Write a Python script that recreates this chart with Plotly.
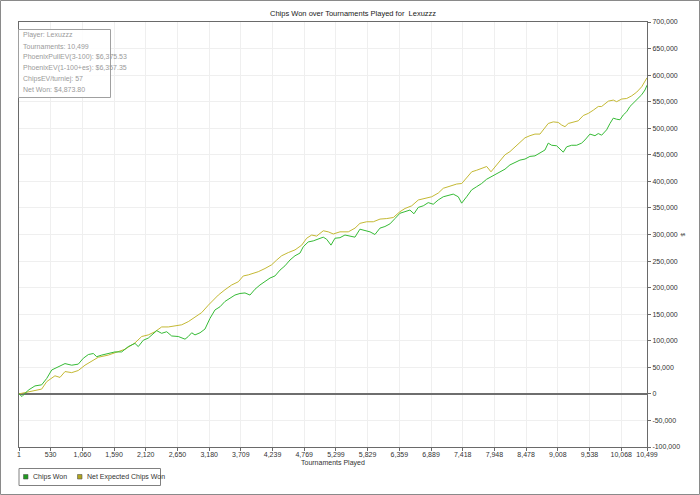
import plotly.graph_objects as go

# ---------------- data ----------------
CHIPS_T = [1, 51, 156, 268, 380, 464, 548, 658, 770, 882, 992, 1076, 1160, 1243, 1300, 1383,
           1494, 1606, 1718, 1828, 1940, 1995, 2079, 2162, 2303, 2386, 2470, 2553, 2664, 2776,
           2831, 2888, 2943, 3027, 3110, 3193, 3277, 3361, 3444, 3528, 3611, 3695, 3779, 3862,
           3946, 4029, 4113, 4197, 4280, 4364, 4447, 4531, 4615, 4698, 4753, 4836, 4920, 5003,
           5087, 5144, 5216, 5283, 5366, 5450, 5533, 5617, 5700, 5784, 5868, 5951, 6035, 6118,
           6202, 6286, 6369, 6453, 6536, 6603, 6675, 6759, 6842, 6926, 7009, 7093, 7177, 7260,
           7344, 7401, 7484, 7568, 7651, 7735, 7818, 7902, 7986, 8041, 8125, 8208, 8292, 8375,
           8459, 8542, 8626, 8710, 8793, 8848, 8905, 8988, 9044, 9099, 9156, 9239, 9323, 9406,
           9462, 9545, 9629, 9684, 9741, 9824, 9880, 9935, 9992, 10047, 10102, 10159, 10214,
           10297, 10353, 10410, 10465, 10499]
CHIPS_WON = [0, -5000, 7000, 15000, 17000, 29000, 45000, 51000, 57000, 54000, 56000, 67000,
             74000, 76000, 70000, 73000, 76000, 79000, 79000, 89000, 95000, 89000, 101000,
             105000, 119000, 114000, 117000, 109000, 108000, 103000, 108000, 115000, 111000,
             115000, 122000, 142000, 158000, 164000, 174000, 180000, 186000, 189000, 190000,
             186000, 197000, 205000, 211000, 218000, 222000, 233000, 241000, 252000, 260000,
             265000, 277000, 286000, 288000, 291000, 295000, 291000, 280000, 293000, 294000,
             299000, 297000, 295000, 310000, 308000, 305000, 300000, 312000, 315000, 320000,
             330000, 340000, 343000, 346000, 339000, 351000, 354000, 360000, 357000, 365000,
             371000, 374000, 376000, 371000, 359000, 371000, 384000, 390000, 396000, 404000,
             409000, 415000, 418000, 423000, 431000, 436000, 440000, 442000, 447000, 448000,
             453000, 459000, 472000, 468000, 467000, 461000, 455000, 465000, 468000, 468000,
             472000, 478000, 489000, 486000, 490000, 487000, 497000, 509000, 519000, 517000,
             516000, 525000, 531000, 541000, 551000, 556000, 563000, 572000, 581000]

EXP_T = [1, 156, 380, 464, 548, 602, 686, 770, 882, 992, 1104, 1216, 1327, 1494, 1606, 1773,
         1940, 2052, 2162, 2274, 2386, 2497, 2609, 2721, 2831, 2943, 3055, 3166, 3249, 3333,
         3444, 3556, 3667, 3750, 3834, 3917, 4001, 4113, 4225, 4309, 4392, 4503, 4615, 4727,
         4810, 4894, 4977, 5088, 5171, 5255, 5367, 5506, 5618, 5701, 5813, 5924, 6036, 6148,
         6258, 6370, 6454, 6566, 6676, 6788, 6900, 7010, 7094, 7206, 7318, 7402, 7485, 7569,
         7652, 7736, 7819, 7891, 7958, 8041, 8125, 8208, 8292, 8375, 8459, 8542, 8626, 8710,
         8793, 8848, 8932, 9015, 9073, 9128, 9183, 9267, 9350, 9434, 9518, 9601, 9685, 9741,
         9797, 9852, 9936, 9992, 10076, 10159, 10243, 10327, 10410, 10465, 10499]
EXP_WON = [0, 4000, 9000, 23000, 29000, 34000, 31000, 42000, 40000, 44000, 54000, 62000,
           69000, 73000, 78000, 84000, 96000, 108000, 111000, 117000, 126000, 126000, 128000,
           130000, 136000, 144000, 153000, 167000, 177000, 186000, 196000, 205000, 211000,
           222000, 224000, 227000, 230000, 236000, 243000, 252000, 260000, 266000, 271000,
           280000, 293000, 299000, 297000, 307000, 305000, 301000, 305000, 305000, 312000,
           321000, 324000, 324000, 329000, 330000, 332000, 343000, 349000, 354000, 365000,
           368000, 371000, 378000, 387000, 391000, 395000, 396000, 406000, 418000, 421000,
           425000, 428000, 418000, 427000, 439000, 450000, 456000, 465000, 472000, 482000,
           486000, 489000, 489000, 500000, 509000, 512000, 511000, 506000, 503000, 509000,
           512000, 514000, 524000, 528000, 534000, 541000, 541000, 547000, 551000, 553000,
           550000, 555000, 556000, 561000, 568000, 578000, 588000, 595000]

X_TICK_VALS = [1, 530, 1060, 1590, 2120, 2650, 3180, 3709, 4239, 4769, 5299, 5829, 6359,
               6889, 7418, 7948, 8478, 9008, 9538, 10068, 10499]
X_TICK_TEXT = ["1", "530", "1,060", "1,590", "2,120", "2,650", "3,180", "3,709", "4,239",
               "4,769", "5,299", "5,829", "6,359", "6,889", "7,418", "7,948", "8,478",
               "9,008", "9,538", "10,068", "10,499"]
Y_TICK_VALS = [-100000, -50000, 0, 50000, 100000, 150000, 200000, 250000, 300000, 350000,
               400000, 450000, 500000, 550000, 600000, 650000, 700000]
Y_TICK_TEXT = ["-100,000", "-50,000", "0", "50,000", "100,000", "150,000", "200,000",
               "250,000", "300,000", "350,000", "400,000", "450,000", "500,000", "550,000",
               "600,000", "650,000", "700,000"]

INFO_LINES = ["Player: Lexuzzz", "Tournaments: 10,499", "PhoenixPullEV(3-100): $6,375.53",
              "PhoenixEV(1-100+es): $6,357.35", "ChipsEV/turniej: 57", "Net Won: $4,873.80"]
TITLE = "Chips Won over Tournaments Played for  Lexuzzz"
SERIES_NAMES = ["Chips Won", "Net Expected Chips Won"]

# ---------------- layout geometry ----------------
FONT = "Liberation Sans"
L, T, W, H = 19, 22, 628, 425
PAGE_W, PAGE_H = 700, 495


def px(x):
    return (x - L) / W


def py(y):
    return (T + H - y) / H


GREEN = "#36bb36"
YELLOW = "#c4b934"

fig = go.Figure()
fig.add_trace(go.Scatter(x=EXP_T, y=EXP_WON, mode="lines", name=SERIES_NAMES[1],
                         line=dict(color=YELLOW, width=1), showlegend=False))
fig.add_trace(go.Scatter(x=CHIPS_T, y=CHIPS_WON, mode="lines", name=SERIES_NAMES[0],
                         line=dict(color=GREEN, width=1), showlegend=False))

shapes = []
annotations = []

# outer border
shapes.append(dict(type="rect", xref="paper", yref="paper", x0=px(0.5), x1=px(699.5),
                   y0=py(0.5), y1=py(494.5), line=dict(color="#8a8a8a", width=1)))
# info box
shapes.append(dict(type="rect", xref="paper", yref="paper", x0=px(18.5), x1=px(110.5),
                   y0=py(29.5), y1=py(97.5), line=dict(color="#a0a0a0", width=1),
                   fillcolor="rgba(255,255,255,0.85)"))
for i, line in enumerate(INFO_LINES):
    annotations.append(dict(text=line, xref="paper", yref="paper", x=px(20.5),
                            y=py(35.5 + i * 10.8), xanchor="left", yanchor="middle",
                            showarrow=False, font=dict(family=FONT, size=7, color="#9a9a9a")))

# legend box
shapes.append(dict(type="rect", xref="paper", yref="paper", x0=px(19), x1=px(160.5),
                   y0=py(468.5), y1=py(485.5), line=dict(color="#808080", width=1)))
legend_items = [(23.5, 31, "#1f9a1f", SERIES_NAMES[0]), (77.5, 84.5, "#b0a51e", SERIES_NAMES[1])]
for sx, tx, col, name in legend_items:
    shapes.append(dict(type="rect", xref="paper", yref="paper", x0=px(sx), x1=px(sx + 4.5),
                       y0=py(474.5), y1=py(479), line=dict(color="#555", width=0.6),
                       fillcolor=col))
    annotations.append(dict(text=name, xref="paper", yref="paper", x=px(tx), y=py(477),
                            xanchor="left", yanchor="middle", showarrow=False,
                            font=dict(family=FONT, size=7, color="#333")))

# title
annotations.append(dict(text=TITLE, xref="paper", yref="paper", x=px(353), y=py(13.5),
                        xanchor="center", yanchor="middle", showarrow=False,
                        font=dict(family=FONT, size=7.5, color="#222")))
# x axis title
annotations.append(dict(text="Tournaments Played", xref="paper", yref="paper", x=px(333),
                        y=py(463), xanchor="center", yanchor="middle", showarrow=False,
                        font=dict(family=FONT, size=7, color="#333")))
# tiny right axis glyph
annotations.append(dict(text="$", xref="paper", yref="paper", x=px(683), y=py(235),
                        xanchor="center", yanchor="middle", showarrow=False, textangle=90,
                        font=dict(family=FONT, size=6, color="#444")))

fig.update_layout(
    width=PAGE_W, height=PAGE_H,
    margin=dict(l=L, r=PAGE_W - L - W, t=T, b=PAGE_H - T - H, pad=0),
    paper_bgcolor="white", plot_bgcolor="white",
    font=dict(family=FONT, size=7, color="#333"),
    showlegend=False,
    shapes=shapes, annotations=annotations,
    xaxis=dict(range=[1, 10499], tickvals=X_TICK_VALS, ticktext=X_TICK_TEXT,
               showgrid=True, gridcolor="#efefef", gridwidth=1,
               showline=True, linecolor="#6a6a6a", linewidth=1, mirror=True,
               ticks="outside", ticklen=3, tickcolor="#6a6a6a", zeroline=False,
               ticklabelstandoff=-2,
               tickfont=dict(family=FONT, size=7, color="#333")),
    yaxis=dict(range=[-100000, 700000], tickvals=Y_TICK_VALS, ticktext=Y_TICK_TEXT,
               side="right", showgrid=True, gridcolor="#efefef", gridwidth=1,
               showline=True, linecolor="#6a6a6a", linewidth=1, mirror=True,
               ticks="outside", ticklen=3, tickcolor="#6a6a6a",
               zeroline=True, zerolinecolor="#6e6e6e", zerolinewidth=1.5,
               tickfont=dict(family=FONT, size=7, color="#333")),
)

fig.write_html("out.html", config={"displayModeBar": False},
               post_script="document.body.style.margin='0';document.body.style.overflow='hidden';")
